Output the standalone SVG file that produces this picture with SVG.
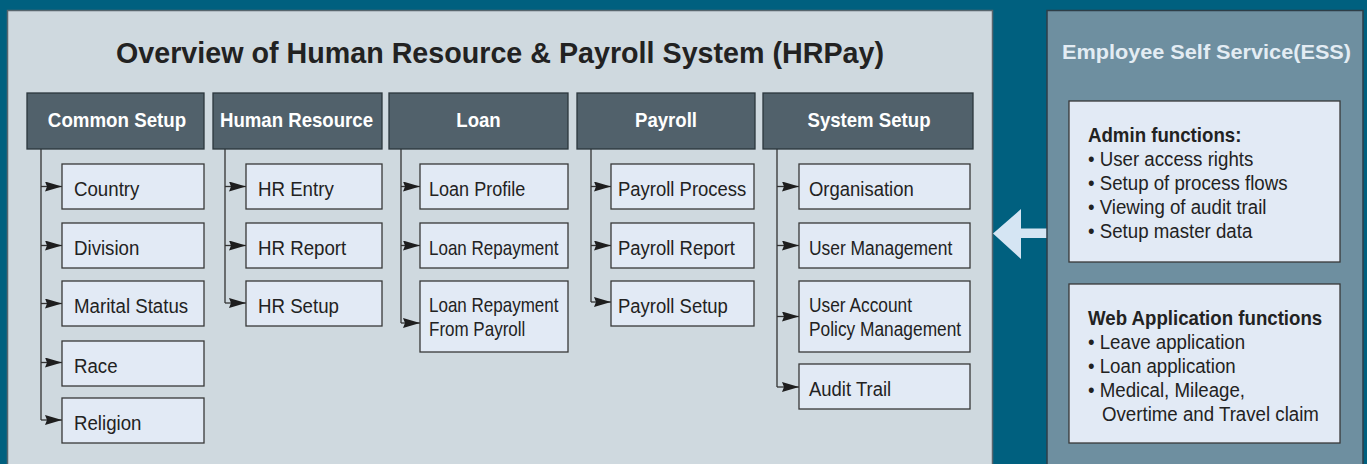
<svg xmlns="http://www.w3.org/2000/svg" width="1367" height="464" viewBox="0 0 1367 464">
<style>
.t{font-family:"Liberation Sans",Arial,sans-serif;fill:#222}
.c{font-size:21px}
.hb{font-size:19.5px;font-weight:bold;fill:#fff;text-anchor:middle}
.b{font-weight:bold}
.hdr{fill:#51616b;stroke:#2b363d;stroke-width:1.3}
.box{fill:#e2eaf5;stroke:#383838;stroke-width:1.3}
.ln{fill:none;stroke:#333;stroke-width:1.3}
</style>
<defs>
<marker id="ah" markerUnits="userSpaceOnUse" viewBox="0 0 17 10" refX="17" refY="5" markerWidth="17" markerHeight="10" orient="auto">
<path d="M0,0 L17,5 L0,10 L2,5 z" fill="#1e1e1e"/>
</marker>
</defs>
<rect x="0" y="0" width="1367" height="464" fill="#00607f"/>
<g id="main-panel">
<rect x="7.5" y="10.5" width="985" height="470" fill="#cfd9df" stroke="#58666e" stroke-width="1.5"/>
<text class="t b" x="500" y="63" font-size="29" text-anchor="middle" textLength="768" lengthAdjust="spacingAndGlyphs">Overview of Human Resource &amp; Payroll System (HRPay)</text>
</g>
<g id="connectors">
<path class="ln" d="M41 149 V420 M225 149 V303 M401 149 V323 M591 149 V302 M777 149 V387"/>
<g class="ln" marker-end="url(#ah)">
<path d="M41 186.5 H62"/><path d="M41 245.5 H62"/><path d="M41 303.5 H62"/><path d="M41 362.5 H62"/><path d="M41 420 H62"/>
<path d="M225 186.5 H246"/><path d="M225 245.5 H246"/><path d="M225 303 H246"/>
<path d="M401 186.5 H420"/><path d="M401 245.5 H420"/><path d="M401 323 H420"/>
<path d="M591 186.5 H611"/><path d="M591 245.5 H611"/><path d="M591 302 H611"/>
<path d="M777 186.5 H799"/><path d="M777 245.5 H799"/><path d="M777 316.5 H799"/><path d="M777 387 H799"/>
</g>
</g>
<g id="common-setup">
<rect class="hdr" x="27" y="93" width="177" height="56"/>
<text class="t hb" transform="translate(117 127) scale(.96 1)">Common Setup</text>
</g>
<g id="country"><rect class="box" x="62" y="164" width="142" height="45"/><text class="t c" transform="translate(74 196) scale(.89 1)">Country</text></g>
<g id="division"><rect class="box" x="62" y="223" width="142" height="45"/><text class="t c" transform="translate(74 255) scale(.89 1)">Division</text></g>
<g id="marital-status"><rect class="box" x="62" y="281" width="142" height="45"/><text class="t c" transform="translate(74 313) scale(.89 1)">Marital Status</text></g>
<g id="race"><rect class="box" x="62" y="341" width="142" height="45"/><text class="t c" transform="translate(74 373) scale(.89 1)">Race</text></g>
<g id="religion"><rect class="box" x="62" y="398" width="142" height="45"/><text class="t c" transform="translate(74 430) scale(.89 1)">Religion</text></g>

<g id="human-resource">
<rect class="hdr" x="213" y="93" width="169" height="56"/>
<text class="t hb" transform="translate(296.5 127) scale(.955 1)">Human Resource</text>
</g>
<g id="hr-entry"><rect class="box" x="246" y="164" width="136" height="45"/><text class="t c" transform="translate(258 196) scale(.89 1)">HR Entry</text></g>
<g id="hr-report"><rect class="box" x="246" y="223" width="136" height="45"/><text class="t c" transform="translate(258 255) scale(.89 1)">HR Report</text></g>
<g id="hr-setup"><rect class="box" x="246" y="281" width="136" height="45"/><text class="t c" transform="translate(258 313) scale(.89 1)">HR Setup</text></g>

<g id="loan">
<rect class="hdr" x="389" y="93" width="179" height="56"/>
<text class="t hb" transform="translate(478.5 127) scale(.955 1)">Loan</text>
</g>
<g id="loan-profile"><rect class="box" x="420" y="164" width="148" height="45"/><text class="t c" transform="translate(429 196) scale(.86 1)">Loan Profile</text></g>
<g id="loan-repayment"><rect class="box" x="420" y="223" width="148" height="45"/><text class="t c" transform="translate(429 255) scale(.81 1)">Loan Repayment</text></g>
<g id="loan-repayment-payroll"><rect class="box" x="420" y="281" width="148" height="71"/><text class="t c" transform="translate(429 312) scale(.81 1)">Loan Repayment</text><text class="t c" transform="translate(429 336) scale(.81 1)">From Payroll</text></g>

<g id="payroll">
<rect class="hdr" x="577" y="93" width="178" height="56"/>
<text class="t hb" transform="translate(666 127) scale(.955 1)">Payroll</text>
</g>
<g id="payroll-process"><rect class="box" x="611" y="164" width="143" height="45"/><text class="t c" transform="translate(618 196) scale(.88 1)">Payroll Process</text></g>
<g id="payroll-report"><rect class="box" x="611" y="223" width="143" height="45"/><text class="t c" transform="translate(618 255) scale(.88 1)">Payroll Report</text></g>
<g id="payroll-setup"><rect class="box" x="611" y="281" width="143" height="45"/><text class="t c" transform="translate(618 313) scale(.88 1)">Payroll Setup</text></g>

<g id="system-setup">
<rect class="hdr" x="763" y="93" width="210" height="56"/>
<text class="t hb" transform="translate(869 127) scale(.955 1)">System Setup</text>
</g>
<g id="organisation"><rect class="box" x="799" y="164" width="171" height="45"/><text class="t c" transform="translate(809 196) scale(.88 1)">Organisation</text></g>
<g id="user-management"><rect class="box" x="799" y="223" width="171" height="45"/><text class="t c" transform="translate(809 255) scale(.83 1)">User Management</text></g>
<g id="user-account-policy"><rect class="box" x="799" y="281" width="171" height="71"/><text class="t c" transform="translate(809 312) scale(.825 1)">User Account</text><text class="t c" transform="translate(809 336) scale(.825 1)">Policy Management</text></g>
<g id="audit-trail"><rect class="box" x="799" y="364" width="171" height="45"/><text class="t c" transform="translate(809 396) scale(.88 1)">Audit Trail</text></g>

<g id="ess-arrow">
<polygon points="993,233.5 1021,209 1021,228.5 1047,228.5 1047,238 1021,238 1021,259" fill="#d5e5f3"/>
</g>
<g id="ess-panel">
<rect x="1047" y="10.5" width="316" height="470" fill="#6e8fa0" stroke="#2e3e48" stroke-width="1.5"/>
<text class="t b" x="1206.5" y="59" font-size="20" style="fill:#e3ecf3" text-anchor="middle" textLength="289" lengthAdjust="spacingAndGlyphs">Employee Self Service(ESS)</text>
</g>
<g id="admin-functions">
<rect class="box" x="1069" y="101" width="271" height="161"/>
<text class="t b" font-size="19.5" transform="translate(1088 142) scale(.957 1)">Admin functions:</text>
<text class="t c" transform="translate(1088 166) scale(.89 1)">• User access rights</text>
<text class="t c" transform="translate(1088 190) scale(.89 1)">• Setup of process flows</text>
<text class="t c" transform="translate(1088 214) scale(.89 1)">• Viewing of audit trail</text>
<text class="t c" transform="translate(1088 238) scale(.89 1)">• Setup master data</text>
</g>
<g id="web-application-functions">
<rect class="box" x="1069" y="284" width="271" height="159"/>
<text class="t b" font-size="19.5" transform="translate(1088 325) scale(.957 1)">Web Application functions</text>
<text class="t c" transform="translate(1088 349) scale(.89 1)">• Leave application</text>
<text class="t c" transform="translate(1088 373) scale(.89 1)">• Loan application</text>
<text class="t c" transform="translate(1088 397) scale(.89 1)">• Medical, Mileage,</text>
<text class="t c" transform="translate(1102 421) scale(.89 1)">Overtime and Travel claim</text>
</g>
</svg>
